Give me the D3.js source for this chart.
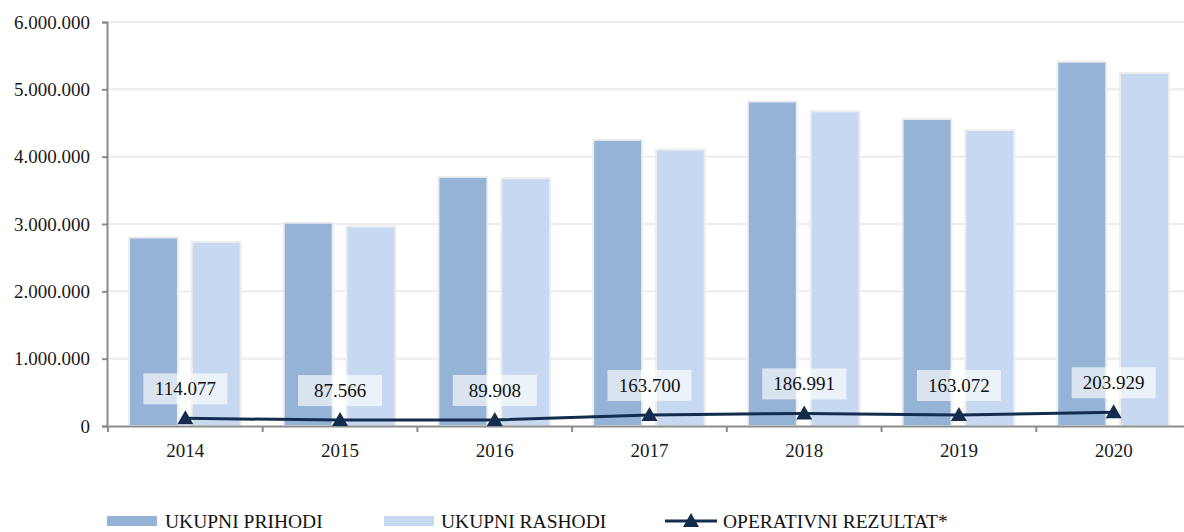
<!DOCTYPE html>
<html lang="en">
  <head>
    <meta charset="utf-8">
    <title>Prihodi i rashodi</title>
    <script type="text/javascript" src="https://d3js.org/d3.v7.min.js"></script>
    <style type="text/css">
      body {
        margin: 0;
        background: #ffffff;
      }

      svg {
        display: block;
        font-family: "Liberation Serif", serif;
      }

      .tick-label {
        font-size: 19px;
        fill: #1a1a1a;
      }

      .value-label {
        font-size: 19px;
        fill: #111111;
        text-anchor: middle;
      }

      .legend-text {
        font-size: 19.5px;
        fill: #111111;
      }
    </style>
  </head>

  <body>
    <svg id="chart"></svg>
    <script type="text/javascript">

    // data
    const years = ['2014', '2015', '2016', '2017', '2018', '2019', '2020'];
    const prihodi = [2800000, 3020000, 3700000, 4250000, 4820000, 4560000, 5410000];
    const rashodi = [2735000, 2965000, 3680000, 4105000, 4675000, 4395000, 5245000];
    const rezultat = [114077, 87566, 89908, 163700, 186991, 163072, 203929];
    const yTicks = [0, 1000000, 2000000, 3000000, 4000000, 5000000, 6000000];
    const seriesNames = ['UKUPNI PRIHODI', 'UKUPNI RASHODI', 'OPERATIVNI REZULTAT*'];

    // layout
    const width = 1184;
    const height = 532;
    const margin = {top: 22, right: -7, bottom: 106, left: 108};

    const fmt = v => d3.format(',')(v).replace(/,/g, '.');

    const svg = d3.select('#chart')
      .attr('width', width)
      .attr('height', height);

    const x = d3.scaleBand()
      .domain(years)
      .range([margin.left, width - margin.right]);

    const inner = d3.scaleBand()
      .domain(['p', 'r'])
      .range([21, x.bandwidth() - 22])
      .paddingInner(0.22);

    const y = d3.scaleLinear()
      .domain([0, 6000000])
      .range([height - margin.bottom, margin.top]);

    // gridlines
    svg.append('g')
      .selectAll('line')
      .data(yTicks.slice(1))
      .join('line')
      .attr('x1', margin.left)
      .attr('x2', width)
      .attr('y1', d => y(d))
      .attr('y2', d => y(d))
      .attr('stroke', '#ececec')
      .attr('stroke-width', 2);

    // bars
    const groups = svg.append('g')
      .selectAll('g')
      .data(years)
      .join('g')
      .attr('transform', d => 'translate(' + x(d) + ',0)');

    groups.append('rect')
      .attr('x', inner('p'))
      .attr('width', inner.bandwidth())
      .attr('y', (d, i) => y(prihodi[i]))
      .attr('height', (d, i) => y(0) - y(prihodi[i]))
      .attr('fill', '#95b3d7')
      .attr('stroke', '#eeeeee')
      .attr('stroke-width', 2);

    groups.append('rect')
      .attr('x', inner('r'))
      .attr('width', inner.bandwidth())
      .attr('y', (d, i) => y(rashodi[i]))
      .attr('height', (d, i) => y(0) - y(rashodi[i]))
      .attr('fill', '#c6d9f1')
      .attr('stroke', '#eeeeee')
      .attr('stroke-width', 2);

    // y axis
    const yAxis = svg.append('g')
      .attr('transform', 'translate(' + (margin.left - 1) + ',0)')
      .call(d3.axisLeft(y).tickValues(yTicks).tickFormat(fmt).tickSize(5).tickPadding(12))
      .attr('font-family', null)
      .attr('font-size', null);
    yAxis.select('.domain').attr('stroke', '#8c8c8c').attr('stroke-width', 2);
    yAxis.selectAll('.tick line').attr('stroke', '#8c8c8c').attr('stroke-width', 2);
    yAxis.selectAll('.tick text').attr('class', 'tick-label');

    // x axis
    const xAxis = svg.append('g')
      .attr('transform', 'translate(0,' + y(0) + ')')
      .call(d3.axisBottom(x).tickSize(0).tickPadding(18))
      .attr('font-family', null)
      .attr('font-size', null);
    xAxis.select('.domain').attr('stroke', '#8c8c8c').attr('stroke-width', 2);
    xAxis.selectAll('.tick text').attr('class', 'tick-label');
    xAxis.selectAll('.sep')
      .data(years)
      .join('line')
      .attr('class', 'sep')
      .attr('x1', d => x(d))
      .attr('x2', d => x(d))
      .attr('y1', 0)
      .attr('y2', 6)
      .attr('stroke', '#8c8c8c')
      .attr('stroke-width', 2);

    // operating result line
    const cx = d => x(d) + x.bandwidth() / 2;
    const line = d3.line()
      .x((d, i) => cx(years[i]))
      .y(d => y(d));

    svg.append('path')
      .datum(rezultat)
      .attr('d', line)
      .attr('fill', 'none')
      .attr('stroke', '#142d4f')
      .attr('stroke-width', 3);

    const tri = 'M0,-8L8,6L-8,6Z';
    svg.append('g')
      .selectAll('path')
      .data(rezultat)
      .join('path')
      .attr('d', tri)
      .attr('transform', (d, i) => 'translate(' + cx(years[i]) + ',' + y(d) + ')')
      .attr('fill', '#142d4f');

    // value labels
    const labels = svg.append('g')
      .selectAll('g')
      .data(rezultat)
      .join('g')
      .attr('transform', (d, i) => 'translate(' + cx(years[i]) + ',' + (y(d) - 29) + ')');

    labels.append('rect')
      .attr('x', -42)
      .attr('y', -16)
      .attr('width', 84)
      .attr('height', 31)
      .attr('fill', '#ffffff')
      .attr('fill-opacity', 0.65);

    labels.append('text')
      .attr('class', 'value-label')
      .attr('y', 6)
      .text(d => fmt(d));

    // legend
    const legend = svg.append('g');
    const legY = 521;

    legend.append('rect')
      .attr('x', 107).attr('y', legY - 5)
      .attr('width', 50).attr('height', 10)
      .attr('fill', '#95b3d7');
    legend.append('text')
      .attr('class', 'legend-text')
      .attr('x', 165).attr('y', legY + 7)
      .text(seriesNames[0]);

    legend.append('rect')
      .attr('x', 384).attr('y', legY - 5)
      .attr('width', 50).attr('height', 10)
      .attr('fill', '#c6d9f1');
    legend.append('text')
      .attr('class', 'legend-text')
      .attr('x', 441).attr('y', legY + 7)
      .text(seriesNames[1]);

    legend.append('line')
      .attr('x1', 665).attr('x2', 717)
      .attr('y1', legY).attr('y2', legY)
      .attr('stroke', '#142d4f')
      .attr('stroke-width', 3);
    legend.append('path')
      .attr('d', tri)
      .attr('transform', 'translate(691,' + legY + ')')
      .attr('fill', '#142d4f');
    legend.append('text')
      .attr('class', 'legend-text')
      .attr('x', 723).attr('y', legY + 7)
      .text(seriesNames[2]);

    </script>
  </body>
</html>
